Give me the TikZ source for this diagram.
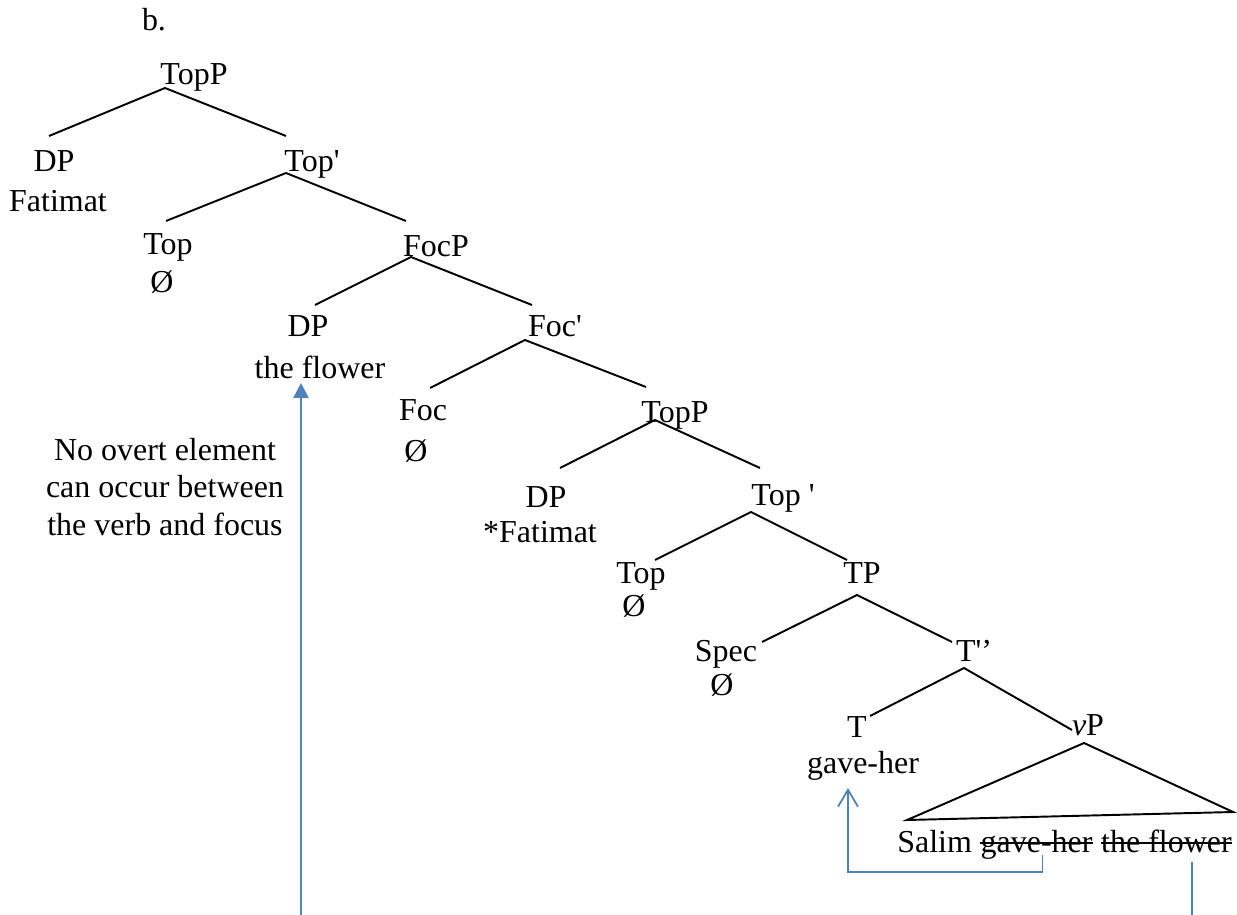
\documentclass[tikz,border=0pt]{standalone}
\usepackage{fontspec}
\setmainfont{Liberation Serif}
\usetikzlibrary{arrows.meta, positioning, calc}
\definecolor{WordBlue}{RGB}{79, 129, 189}

\begin{document}
\begin{tikzpicture}[
        x = 0.02cm, y = -0.02cm,
        lbl/.style = {font = \fontsize{18.2}{21.3}\selectfont, inner sep = 0pt, anchor = base},
        br/.style = {line width = 1.1pt, black},
        strk/.style = {line width = 1pt, black},
        mv/.style = {WordBlue, line width = 1pt},
        longmv/.style = {WordBlue, line width = 1.4pt, -{Triangle[length = 3mm, width = 3mm]}}
    ]
        \useasboundingbox (0, 0) rectangle (1237, 915);

        \node[lbl] (ex) at (154, 31) {b.};

        \node[lbl] (topP) at (194, 85) {TopP};
        \node[lbl] (dp1) at (54, 172) {DP};
        \node[lbl] (fat1) at (58, 212) {Fatimat};
        \node[lbl] (top1) at (312, 172) {Top\textquotesingle};
        \node[lbl] (topH1) at (168, 255) {Top};
        \node[lbl] (null1) at (162, 293) {Ø};
        \node[lbl] (focP) at (436, 257) {FocP};
        \node[lbl] (dp2) at (308, 337) {DP};
        \node[lbl] (flower1) at (320, 378) {the flower};
        \node[lbl] (focB) at (555, 337) {Foc\textquotesingle};
        \node[lbl] (foc) at (423, 420) {Foc};
        \node[lbl] (null2) at (416, 461) {Ø};
        \node[lbl] (topP2) at (675, 422) {TopP};
        \node[lbl] (dp3) at (546, 507) {DP};
        \node[lbl] (fat2) at (540, 542) {*Fatimat};
        \node[lbl] (top2) at (783, 505) {Top \textquotesingle};
        \node[lbl] (topH2) at (641, 583) {Top};
        \node[lbl] (null3) at (634, 616) {Ø};
        \node[lbl] (tp) at (862, 583) {TP};
        \node[lbl] (spec) at (726, 661) {Spec};
        \node[lbl] (null4) at (722, 695) {Ø};
        \node[lbl] (tbar) at (974, 661) {T\textquotesingle’};
        \node[lbl] (t) at (857, 737) {T};
        \node[lbl] (gave) at (863, 773) {gave-her};
        \node[lbl] (vp) at (1088, 735) {\textit{v}P};

        \node[lbl, anchor = base west] (salim) at (897, 852) {Salim};
        \node[lbl, anchor = base west] (gv) at ($(salim.base east)+(8, 0)$) {gave-her};
        \node[lbl, anchor = base west] (fl) at ($(gv.base east)+(8, 0)$) {the flower};

        \node[lbl, anchor = center, align = center] (note) at (165, 487) {
            No overt element
            \\
            can occur between
            \\
            the verb and focus
        };

        \draw[br] ($(dp1.base)+(-5, -36)$) -- ($(topP.base)+(-29, 3)$) -- ($(top1.base)+(-26, -36)$);
        \draw[br] ($(topH1.base)+(-2, -34)$) -- ($(top1.base)+(-26, 1)$) -- ($(focP.base)+(-30, -36)$);
        \draw[br] ($(dp2.base)+(7, -32)$) -- ($(focP.base)+(-25, 0)$) -- ($(focB.base)+(-23, -32)$);
        \draw[br] ($(foc.base)+(7, -32)$) -- ($(focB.base)+(-30, 3)$) -- ($(topP2.base)+(-29, -35)$);
        \draw[br] ($(dp3.base)+(14, -39)$) -- ($(topP2.base)+(-20, -2)$) -- ($(top2.base)+(-23, -37)$);
        \draw[br] ($(topH2.base)+(14, -23)$) -- ($(top2.base)+(-32, 7)$) -- ($(tp.base)+(-15, -23)$);
        \draw[br] ($(spec.base)+(36, -19)$) -- ($(tp.base)+(-5, 12)$) -- ($(tbar.base)+(-22, -19)$);
        \draw[br] ($(t.base)+(13, -21)$) -- ($(tbar.base)+(-10, 7)$) -- ($(vp.base)+(-16, -5)$);
        \draw[br] ($(salim.base west)+(10, -32)$) -- ($(vp.base)+(-4, 8)$) -- ($(fl.base east)+(1, -40)$) -- cycle;

        \draw[strk] ($(gv.base west)+(0, -9)$) -- ($(gv.base east)+(0, -9)$);
        \draw[strk] ($(fl.base west)+(0, -9)$) -- ($(fl.base east)+(0, -9)$);

        \coordinate (fbot) at (301, 915);
        \coordinate (rbot) at (1192, 915);
        \coordinate (rtop) at ($(fl.base)+(0, 10)$);
        \draw[longmv] (fbot) -- ($(flower1.base)+(-19, 5)$);
        \draw[mv, -{Straight Barb[length = 3.4mm, width = 4mm]}] ($(gv.base)+(6, 3)$) -- ++(0, 17) -| ($(gave.base)+(-15, 15)$);
        \draw[mv, line width = 0.9pt] (rbot |- rtop) -- (rbot);
    \end{tikzpicture}
\end{document}
